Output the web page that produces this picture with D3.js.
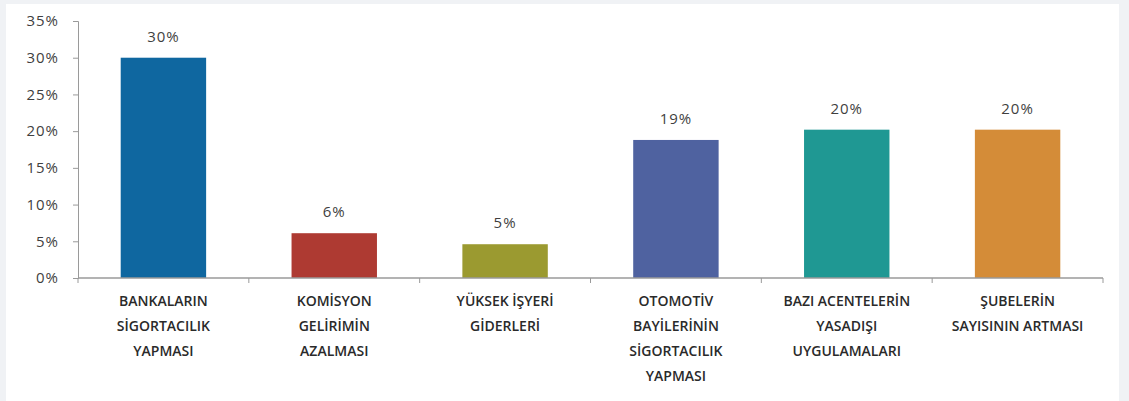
<!DOCTYPE html>
<meta charset="utf-8">
<script src="https://d3js.org/d3.v7.min.js"></script>
<style>
  body { margin: 0; background: #f0f2f5; }
  svg { display: block; }
</style>
<div id="chart"></div>
<script>

// data
var categories = [
  ["BANKALARIN", "SİGORTACILIK", "YAPMASI"],
  ["KOMİSYON", "GELİRİMİN", "AZALMASI"],
  ["YÜKSEK İŞYERİ", "GİDERLERİ"],
  ["OTOMOTİV", "BAYİLERİNİN", "SİGORTACILIK", "YAPMASI"],
  ["BAZI ACENTELERİN", "YASADIŞI", "UYGULAMALARI"],
  ["ŞUBELERİN", "SAYISININ ARTMASI"]
];
var values = [30, 6.1, 4.6, 18.8, 20.2, 20.2];
var valueLabels = ["30%", "6%", "5%", "19%", "20%", "20%"];
var colors = ["#0f67a0", "#ae3a32", "#9b9a30", "#4f62a0", "#1f9893", "#d48c38"];
var yTicks = [0, 5, 10, 15, 20, 25, 30, 35];

var W = 1129, H = 401;
var margin = {top: 21, right: 26, bottom: 123, left: 78},
    width = W - margin.left - margin.right,
    height = H - margin.top - margin.bottom;

var svg = d3.select("#chart")
  .append("svg")
    .attr("width", W)
    .attr("height", H);

// white panel
svg.append("rect")
    .attr("x", 6).attr("y", 4)
    .attr("width", 1113).attr("height", H - 4)
    .attr("fill", "#ffffff");

var g = svg.append("g")
    .attr("transform", "translate(" + margin.left + "," + margin.top + ")");

var x = d3.scaleBand()
    .domain(d3.range(categories.length))
    .range([0, width])
    .paddingInner(0.5)
    .paddingOuter(0.25);

var y = d3.scaleLinear()
    .domain([0, 35])
    .range([height, 0]);

// Y axis
var yAxis = g.append("g")
    .call(d3.axisLeft(y).tickValues(yTicks).tickFormat(function(d) { return d + "%"; }).tickSize(5).tickPadding(14));
yAxis.select(".domain").attr("stroke", "#9a9a9a");
yAxis.selectAll(".tick line").attr("stroke", "#9a9a9a");
yAxis.selectAll("text")
    .style("font-family", "'Open Sans', sans-serif")
    .style("font-size", "15px")
    .style("letter-spacing", "1px")
    .attr("fill", "#3f3f3f");

// bars
g.selectAll(".bar")
    .data(values)
    .enter()
    .append("rect")
      .attr("class", "bar")
      .attr("x", function(d, i) { return x(i); })
      .attr("y", function(d) { return y(d); })
      .attr("width", x.bandwidth())
      .attr("height", function(d) { return height - y(d); })
      .attr("fill", function(d, i) { return colors[i]; });

// value labels
g.selectAll(".val")
    .data(values)
    .enter()
    .append("text")
      .attr("class", "val")
      .attr("x", function(d, i) { return x(i) + x.bandwidth() / 2; })
      .attr("y", function(d) { return y(d) - 16; })
      .attr("text-anchor", "middle")
      .style("font-family", "'Open Sans', sans-serif")
      .style("font-size", "15px")
      .style("letter-spacing", "1px")
      .attr("fill", "#3f3f3f")
      .text(function(d, i) { return valueLabels[i]; });

// X axis
var step = x.step();
var xAxis = g.append("g")
    .attr("transform", "translate(0," + height + ")");
xAxis.append("line")
    .attr("x1", 0).attr("x2", width)
    .attr("stroke", "#9a9a9a").attr("stroke-width", 1.5);
xAxis.selectAll(".xt")
    .data(d3.range(categories.length + 1))
    .enter()
    .append("line")
      .attr("x1", function(d) { return x(0) - x.step() * x.paddingInner() / 2 + d * step; })
      .attr("x2", function(d) { return x(0) - x.step() * x.paddingInner() / 2 + d * step; })
      .attr("y1", 0).attr("y2", 5)
      .attr("stroke", "#9a9a9a");

// category labels
var labels = xAxis.selectAll(".cat")
    .data(categories)
    .enter()
    .append("text")
      .attr("class", "cat")
      .attr("text-anchor", "middle")
      .attr("transform", function(d, i) { return "translate(" + (x(i) + x.bandwidth() / 2) + ",28)"; })
      .style("font-family", "'Open Sans', sans-serif")
      .style("font-size", "14px")
      .style("font-weight", "600")
      .attr("fill", "#2a2a2a");
labels.selectAll("tspan")
    .data(function(d) { return d; })
    .enter()
    .append("tspan")
      .attr("x", 0)
      .attr("y", function(d, i) { return i * 25; })
      .text(function(d) { return d; });

</script>
